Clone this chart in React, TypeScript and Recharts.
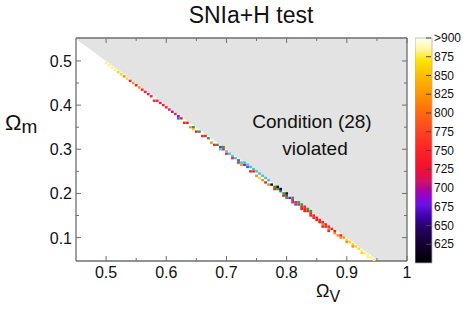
import React from 'react';
import { ComposedChart, Area, Scatter, XAxis, YAxis, ReferenceArea } from 'recharts';

// ---- data ----
const xMajorTicks = [0.5, 0.6, 0.7, 0.8, 0.9, 1.0];
const xMinorTicks = [0.55, 0.65, 0.75, 0.85, 0.95];
const yMajorTicks = [0.1, 0.2, 0.3, 0.4, 0.5];
const yMinorTicks = [0.15, 0.25, 0.35, 0.45];
const colorbarTicks = [625, 650, 675, 700, 725, 750, 775, 800, 825, 850, 875, 900];

// boundary of the "Condition (28) violated" region (Omega_V, lower Omega_m, upper Omega_m)
const boundaryV = [0.45, 0.953, 1.0];
const boundaryLow = [0.55, 0.047, 0.047];
const boundaryHigh = [0.552, 0.552, 0.552];

// scattered cells along the allowed edge, grouped by colour: [Omega_V, Omega_m]
const paleYellowPts = [[0.5, 0.495], [0.505, 0.49], [0.51, 0.485], [0.515, 0.48], [0.925, 0.07], [0.93, 0.065], [0.935, 0.06], [0.94, 0.055], [0.945, 0.05], [0.935, 0.055]];
const yellowPts = [[0.52, 0.475], [0.525, 0.47], [0.535, 0.46], [0.9, 0.095], [0.905, 0.09], [0.91, 0.085], [0.915, 0.08], [0.92, 0.075], [0.925, 0.065], [0.755, 0.235], [0.645, 0.345]];
const orangePts = [[0.53, 0.465], [0.545, 0.45], [0.555, 0.44], [0.64, 0.35], [0.75, 0.24], [0.76, 0.23], [0.77, 0.22], [0.86, 0.13], [0.87, 0.12], [0.88, 0.11], [0.885, 0.105], [0.89, 0.1], [0.895, 0.1], [0.9, 0.09], [0.91, 0.08], [0.675, 0.315], [0.725, 0.265]];
const redPts = [[0.54, 0.455], [0.55, 0.445], [0.56, 0.435], [0.565, 0.43], [0.575, 0.42], [0.58, 0.41], [0.585, 0.41], [0.595, 0.4], [0.605, 0.39], [0.615, 0.38], [0.625, 0.37], [0.63, 0.36], [0.635, 0.36], [0.65, 0.34], [0.66, 0.33], [0.665, 0.33], [0.68, 0.31], [0.695, 0.3], [0.7, 0.29], [0.71, 0.28], [0.72, 0.27], [0.74, 0.25], [0.745, 0.25], [0.765, 0.225], [0.78, 0.21], [0.795, 0.195], [0.81, 0.18], [0.82, 0.175], [0.825, 0.17], [0.83, 0.165], [0.835, 0.16], [0.84, 0.155], [0.845, 0.15], [0.85, 0.145], [0.855, 0.14], [0.86, 0.135], [0.865, 0.13], [0.87, 0.125], [0.875, 0.12], [0.88, 0.115], [0.84, 0.15], [0.845, 0.145], [0.85, 0.14], [0.855, 0.135], [0.86, 0.125], [0.865, 0.125], [0.87, 0.115], [0.83, 0.16], [0.825, 0.165], [0.89, 0.105]];
const magentaPts = [[0.57, 0.425], [0.59, 0.405], [0.6, 0.395], [0.81, 0.185], [0.815, 0.18], [0.83, 0.17]];
const purplePts = [[0.61, 0.385], [0.62, 0.375], [0.8, 0.195], [0.805, 0.19], [0.73, 0.265], [0.69, 0.305]];
const bluePts = [[0.62, 0.37], [0.72, 0.275], [0.735, 0.26], [0.79, 0.205], [0.815, 0.175]];
const greenPts = [[0.645, 0.35], [0.655, 0.34], [0.67, 0.325], [0.685, 0.31], [0.695, 0.305], [0.78, 0.215], [0.785, 0.21], [0.795, 0.2], [0.8, 0.19], [0.81, 0.19], [0.82, 0.18], [0.825, 0.175], [0.835, 0.165], [0.84, 0.16]];
const cyanPts = [[0.69, 0.3], [0.7, 0.295], [0.705, 0.29], [0.71, 0.285], [0.715, 0.28], [0.725, 0.27], [0.73, 0.27], [0.74, 0.26], [0.745, 0.255], [0.75, 0.25], [0.755, 0.245], [0.76, 0.24], [0.765, 0.235], [0.77, 0.23], [0.735, 0.265]];
const blackPts = [[0.775, 0.22], [0.79, 0.21], [0.8, 0.2], [0.785, 0.215]];

const groups = [
  { name: 'paleYellow', color: '#f8f08a', pts: paleYellowPts },
  { name: 'yellow', color: '#ffd41a', pts: yellowPts },
  { name: 'orange', color: '#ff8c1a', pts: orangePts },
  { name: 'red', color: '#f52323', pts: redPts },
  { name: 'magenta', color: '#e0207a', pts: magentaPts },
  { name: 'purple', color: '#7a22d0', pts: purplePts },
  { name: 'blue', color: '#3a5ee0', pts: bluePts },
  { name: 'green', color: '#2f9e3a', pts: greenPts },
  { name: 'cyan', color: '#46c2d4', pts: cyanPts },
  { name: 'black', color: '#151515', pts: blackPts },
];

const regionData = boundaryV.map((v, i) => ({ v, band: [boundaryLow[i], boundaryHigh[i]] }));

const FONT = '"Liberation Sans", Arial, Helvetica, sans-serif';
const FRAME = '#6e6e6e';
const X_DOMAIN = [0.45, 1.0];
const Y_DOMAIN = [0.047, 0.552];

const isIn = (arr: number[], v: number) => arr.some((a) => Math.abs(a - v) < 1e-6);
const fmt = (v: number) => String(Math.round(v * 100) / 100);

const xTicks = [...xMajorTicks, ...xMinorTicks].sort((a, b) => a - b);
const yTicks = [...yMajorTicks, ...yMinorTicks].sort((a, b) => a - b);

const BottomTick = (p: any) => {
  const major = isIn(xMajorTicks, p.payload.value);
  return (
    <g>
      <line x1={p.x} x2={p.x} y1={p.y} y2={p.y - (major ? 5 : 3)} stroke={FRAME} strokeWidth={1} />
      {major && (
        <text x={p.x} y={p.y + 17} textAnchor="middle" fontSize={16} fontFamily={FONT} fill="#111">
          {fmt(p.payload.value)}
        </text>
      )}
    </g>
  );
};
const TopTick = (p: any) => {
  const major = isIn(xMajorTicks, p.payload.value);
  return <line x1={p.x} x2={p.x} y1={p.y} y2={p.y + (major ? 5 : 3)} stroke={FRAME} strokeWidth={1} />;
};
const LeftTick = (p: any) => {
  const major = isIn(yMajorTicks, p.payload.value);
  return (
    <g>
      <line x1={p.x} x2={p.x + (major ? 5 : 3)} y1={p.y} y2={p.y} stroke={FRAME} strokeWidth={1} />
      {major && (
        <text x={p.x - 4} y={p.y + 6} textAnchor="end" fontSize={16} fontFamily={FONT} fill="#111">
          {fmt(p.payload.value)}
        </text>
      )}
    </g>
  );
};
const RightTick = (p: any) => {
  const major = isIn(yMajorTicks, p.payload.value);
  return <line x1={p.x} x2={p.x - (major ? 5 : 3)} y1={p.y} y2={p.y} stroke={FRAME} strokeWidth={1} />;
};
const ColorbarTick = (p: any) => (
  <g>
    <line x1={p.x - 6} x2={p.x - 1} y1={p.y} y2={p.y} stroke="#444" strokeWidth={1} />
    <text x={p.x + 2} y={p.y + 4} fontSize={12} fontFamily={FONT} fill="#111">
      {p.payload.value === 900 ? '>900' : String(p.payload.value)}
    </text>
  </g>
);

const cell = (color: string) => (p: any) => (
  <rect x={p.cx - 1.4} y={p.cy - 1.2} width={2.8} height={2.4} fill={color} />
);

const gradientStops = [
  [0, '#fffff4'], [0.05, '#fff7a0'], [0.1, '#ffe400'], [0.17, '#ffbb00'], [0.25, '#ff9500'],
  [0.33, '#ff6a10'], [0.42, '#ff4020'], [0.5, '#ff2222'], [0.58, '#f01030'], [0.64, '#d0106a'],
  [0.68, '#a800b0'], [0.74, '#6a10ec'], [0.8, '#3a00a0'], [0.84, '#28006a'], [0.9, '#18003a'], [1, '#000000'],
];

export default function App() {
  return (
    <div style={{ position: 'absolute', left: 0, top: 0, width: 463, height: 314, background: '#fff' }}>
      <div style={{ position: 'absolute', left: 0, top: 0 }}>
        <ComposedChart width={463} height={314} data={regionData} margin={{ top: 37, right: 55, bottom: 23, left: 36 }}>
          <XAxis type="number" dataKey="v" domain={X_DOMAIN} allowDataOverflow ticks={xTicks} interval={0}
            tick={BottomTick} tickLine={false} tickSize={0} tickMargin={0} height={30}
            axisLine={{ stroke: FRAME, strokeWidth: 1.3 }} />
          <XAxis xAxisId="t" orientation="top" type="number" dataKey="v" domain={X_DOMAIN} allowDataOverflow ticks={xTicks}
            interval={0} tick={TopTick} tickLine={false} tickSize={0} tickMargin={0} height={1}
            axisLine={{ stroke: FRAME, strokeWidth: 1.3 }} />
          <YAxis type="number" domain={Y_DOMAIN} allowDataOverflow ticks={yTicks} interval={0}
            tick={LeftTick} tickLine={false} tickSize={0} tickMargin={0} width={40}
            axisLine={{ stroke: FRAME, strokeWidth: 1.3 }} />
          <YAxis yAxisId="r" orientation="right" type="number" domain={Y_DOMAIN} allowDataOverflow ticks={yTicks}
            interval={0} tick={RightTick} tickLine={false} tickSize={0} tickMargin={0} width={1}
            axisLine={{ stroke: FRAME, strokeWidth: 1.3 }} />
          <Area dataKey="band" type="linear" fill="#e3e3e3" fillOpacity={1} stroke="none" isAnimationActive={false} />
          {groups.map((g) => (
            <Scatter key={g.name} data={g.pts.map(([v, m]) => ({ v, m }))} dataKey="m" shape={cell(g.color)}
              isAnimationActive={false} />
          ))}
        </ComposedChart>
      </div>
      <div style={{ position: 'absolute', left: 415, top: 0 }}>
        <ComposedChart width={48} height={314} data={[{ x: 0, y: 600 }, { x: 1, y: 900 }]} margin={{ top: 38, right: 0, bottom: 51, left: 0 }}>
          <defs>
            <linearGradient id="cbGrad" x1="0" y1="0" x2="0" y2="1">
              {gradientStops.map(([o, c]) => (
                <stop key={String(o)} offset={o as number} stopColor={c as string} />
              ))}
            </linearGradient>
          </defs>
          <XAxis type="number" dataKey="x" domain={[0, 1]} hide />
          <YAxis orientation="right" type="number" dataKey="y" domain={[600, 900]} ticks={colorbarTicks} interval={0}
            tick={ColorbarTick} tickLine={false} tickSize={0} tickMargin={0} width={31} axisLine={false} />
          <Scatter dataKey="y" shape={() => <g />} isAnimationActive={false} />
          <ReferenceArea x1={0} x2={1} y1={600} y2={900} fill="url(#cbGrad)" fillOpacity={1} stroke="#b0b0b0" strokeWidth={0.8} />
        </ComposedChart>
      </div>
      <svg width={463} height={314} style={{ position: 'absolute', left: 0, top: 0, pointerEvents: 'none' }}>
        <text x={251} y={23} textAnchor="middle" fontSize={23} fontFamily={FONT} fill="#111">SNIa+H test</text>
        <text x={312} y={128} textAnchor="middle" fontSize={19} fontFamily={FONT} fill="#111">Condition (28)</text>
        <text x={315} y={155} textAnchor="middle" fontSize={19} fontFamily={FONT} fill="#111">violated</text>
        <text x={5} y={130} fontSize={22} fontFamily={FONT} fill="#111">
          Ω<tspan fontSize={19} dy={3}>m</tspan>
        </text>
        <text x={316} y={297} fontSize={18} fontFamily={FONT} fill="#111">
          Ω<tspan fontSize={16} dy={5}>V</tspan>
        </text>
      </svg>
    </div>
  );
}
